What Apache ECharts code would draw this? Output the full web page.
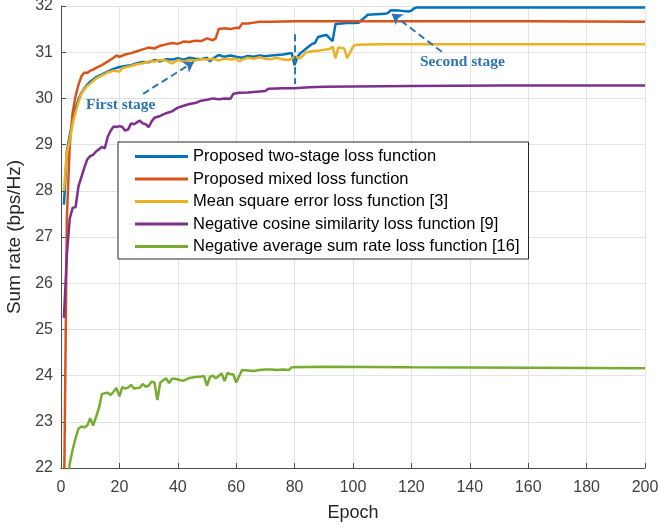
<!DOCTYPE html>
<html>
<head>
<meta charset="utf-8">
<script src="https://cdn.jsdelivr.net/npm/echarts@6/dist/echarts.min.js"></script>
<style>
html, body { margin: 0; padding: 0; background: #fff; }
#chart { width: 658px; height: 529px; }
</style>
</head>
<body>
<div id="chart"></div>
<script>
// legend names
var seriesNames = [
    'Proposed two-stage loss function',
    'Proposed mixed loss function',
    'Mean square error loss function [3]',
    'Negative cosine similarity loss function [9]',
    'Negative average sum rate loss function [16]'
];
var seriesColors = ['#0072BD', '#D95319', '#EDB120', '#7E2F8E', '#77AC30'];

// two-stage
var twoStageEpoch = [1, 2, 3, 4, 5, 6, 7, 8, 9, 10, 12, 14, 16, 18, 20, 22, 24, 26, 28, 30, 32, 34, 36, 38, 40, 42, 44, 46, 48, 50, 51, 52, 54, 56, 58, 60, 62, 64, 66, 68, 70, 72, 74, 76, 78, 79, 80, 81, 82, 84, 86, 87, 88, 90, 91, 92, 93, 94, 96, 98, 100, 102, 103, 104, 105, 108, 111, 112, 113, 116, 119, 120, 121, 122, 130, 150, 170, 200];
var twoStageRate = [27.7, 28.85, 29.2, 29.5, 29.78, 29.98, 30.12, 30.22, 30.3, 30.36, 30.46, 30.52, 30.58, 30.64, 30.68, 30.7, 30.72, 30.76, 30.79, 30.78, 30.83, 30.8, 30.85, 30.84, 30.87, 30.84, 30.88, 30.86, 30.85, 30.88, 30.8, 30.86, 30.94, 30.9, 30.93, 30.9, 30.88, 30.92, 30.9, 30.93, 30.91, 30.93, 30.94, 30.95, 30.97, 30.98, 30.72, 30.9, 30.98, 31.08, 31.18, 31.2, 31.33, 31.36, 31.37, 31.3, 31.24, 31.61, 31.62, 31.63, 31.63, 31.64, 31.7, 31.75, 31.81, 31.82, 31.83, 31.85, 31.91, 31.9, 31.88, 31.9, 31.95, 31.97, 31.97, 31.97, 31.97, 31.97];

// mixed
var mixedEpoch = [1, 2, 3, 4, 5, 6, 7, 8, 9, 10, 11, 12, 14, 16, 18, 19, 20, 22, 24, 26, 28, 30, 32, 34, 36, 38, 40, 42, 44, 46, 48, 50, 52, 53, 54, 56, 58, 60, 61, 62, 64, 66, 68, 72, 80, 100, 130, 160, 200];
var mixedRate = [21.0, 27.4, 29.0, 29.7, 30.05, 30.3, 30.48, 30.56, 30.55, 30.6, 30.62, 30.66, 30.72, 30.8, 30.88, 30.93, 30.9, 30.95, 30.98, 31.02, 31.06, 31.1, 31.08, 31.14, 31.17, 31.2, 31.18, 31.23, 31.22, 31.25, 31.24, 31.3, 31.26, 31.3, 31.5, 31.52, 31.5, 31.53, 31.52, 31.62, 31.62, 31.64, 31.66, 31.66, 31.67, 31.67, 31.67, 31.67, 31.66];

// mse
var mseEpoch = [1, 2, 3, 4, 5, 6, 7, 8, 9, 10, 12, 14, 16, 18, 20, 21, 24, 26, 28, 30, 32, 34, 36, 38, 40, 42, 44, 46, 48, 50, 52, 54, 56, 58, 60, 61, 62, 64, 66, 68, 70, 72, 74, 76, 78, 80, 82, 84, 86, 88, 90, 92, 93, 94, 95, 97, 98, 100, 101, 110, 130, 160, 200];
var mseRate = [28.0, 28.82, 29.1, 29.46, 29.7, 29.92, 30.1, 30.2, 30.27, 30.32, 30.43, 30.5, 30.56, 30.6, 30.58, 30.66, 30.7, 30.74, 30.76, 30.8, 30.8, 30.83, 30.82, 30.76, 30.83, 30.8, 30.83, 30.82, 30.85, 30.84, 30.86, 30.82, 30.86, 30.84, 30.86, 30.8, 30.84, 30.88, 30.86, 30.89, 30.86, 30.85, 30.88, 30.84, 30.83, 30.9, 30.87, 31.0, 31.02, 31.03, 31.05, 31.07, 31.12, 30.87, 31.1, 31.08, 30.87, 31.12, 31.16, 31.17, 31.17, 31.17, 31.17];

// cosine
var cosEpoch = [1, 2, 3, 4, 5, 6, 7, 8, 9, 10, 11, 12, 13, 14, 15, 16, 17, 18, 19, 20, 21, 22, 23, 24, 25, 26, 27, 28, 29, 30, 31, 32, 34, 36, 38, 40, 42, 44, 46, 48, 50, 52, 54, 56, 58, 59, 61, 64, 68, 70, 71, 76, 80, 85, 90, 100, 120, 150, 200];
var cosRate = [25.25, 26.6, 27.4, 27.63, 27.65, 28.1, 28.3, 28.5, 28.68, 28.75, 28.78, 28.85, 28.9, 28.95, 28.92, 29.17, 29.3, 29.39, 29.38, 29.4, 29.38, 29.3, 29.33, 29.46, 29.44, 29.48, 29.52, 29.46, 29.44, 29.38, 29.5, 29.58, 29.62, 29.68, 29.72, 29.8, 29.84, 29.88, 29.9, 29.95, 29.97, 30.0, 29.98, 30.0, 29.99, 30.1, 30.12, 30.13, 30.15, 30.16, 30.21, 30.22, 30.22, 30.24, 30.25, 30.26, 30.27, 30.28, 30.28];

// sum rate
var sumEpoch = [1, 2, 3, 4, 5, 6, 7, 8, 9, 10, 11, 12, 13, 14, 15, 16, 17, 18, 19, 20, 21, 22, 23, 24, 25, 26, 27, 28, 29, 30, 31, 32, 33, 34, 35, 36, 37, 38, 39, 41, 42, 44, 46, 48, 49, 50, 51, 52, 53, 54, 55, 56, 57, 58, 59, 60, 62, 64, 66, 68, 70, 72, 74, 76, 78, 79, 90, 120, 160, 200];
var sumRate = [20.5, 21.6, 22.1, 22.4, 22.65, 22.85, 22.9, 22.88, 22.92, 23.08, 22.92, 23.1, 23.3, 23.6, 23.62, 23.63, 23.58, 23.65, 23.73, 23.55, 23.75, 23.72, 23.74, 23.8, 23.72, 23.73, 23.74, 23.82, 23.76, 23.78, 23.87, 23.85, 23.47, 23.85, 23.9, 23.94, 23.84, 23.93, 23.93, 23.9, 23.89, 23.95, 23.97, 23.98, 23.99, 23.78, 23.97, 24.0, 23.94, 23.99, 24.05, 23.88, 24.06, 24.03, 24.03, 23.85, 24.12, 24.11, 24.1, 24.12, 24.13, 24.13, 24.12, 24.13, 24.12, 24.18, 24.19, 24.18, 24.17, 24.16];

var allEpoch = [twoStageEpoch, mixedEpoch, mseEpoch, cosEpoch, sumEpoch];
var allRate = [twoStageRate, mixedRate, mseRate, cosRate, sumRate];

var annoColor = '#2E75B6';
var fontSans = 'Arial, Liberation Sans';

var myChart = echarts.init(document.getElementById('chart'));

var series = [];
for (var s = 0; s < seriesNames.length; s++) {
    var pts = [];
    for (var i = 0; i < allEpoch[s].length; i++) {
        pts.push([allEpoch[s][i], allRate[s][i]]);
    }
    series.push({
        name: seriesNames[s],
        type: 'line',
        data: pts,
        symbol: 'none',
        showSymbol: false,
        clip: true,
        color: seriesColors[s],
        lineStyle: {width: 2.5, color: seriesColors[s]}
    });
}

// dashed arrows + stage divider at epoch 80
series[0].markLine = {
    silent: true,
    symbol: ['none', 'arrow'],
    symbolSize: 10,
    label: {show: false},
    lineStyle: {color: annoColor, width: 2, type: [7, 4]},
    data: [
        [{coord: [28.1, 30.1]}, {coord: [45.5, 30.79]}],
        [{coord: [130.4, 31.01]}, {coord: [113.3, 31.83]}],
        [{coord: [80, 31.39], symbol: 'none'}, {coord: [80, 30.31], symbol: 'none'}]
    ]
};

var option = {
    animation: false,
    backgroundColor: '#fff',
    grid: {left: 61, right: 13, top: 6, bottom: 61, containLabel: false, outerBoundsMode: 'none'},
    legend: {
        orient: 'vertical',
        left: 118,
        top: 142,
        padding: [6, 9, 4, 17],
        backgroundColor: '#fff',
        borderColor: '#262626',
        borderWidth: 1,
        icon: 'rect',
        itemWidth: 53,
        itemHeight: 3,
        itemGap: 5.5,
        textStyle: {fontFamily: fontSans, fontSize: 16.5, color: '#000'},
        data: seriesNames
    },
    xAxis: {
        type: 'value',
        min: 0,
        max: 200,
        interval: 20,
        name: 'Epoch',
        nameLocation: 'middle',
        nameGap: 36,
        nameTextStyle: {fontFamily: fontSans, fontSize: 18, color: '#262626'},
        axisLine: {onZero: false, lineStyle: {color: '#4d4d4d', width: 1}},
        axisTick: {inside: true, length: 5, lineStyle: {color: '#4d4d4d'}},
        axisLabel: {margin: 12, fontFamily: fontSans, fontSize: 16, color: '#404040'},
        splitLine: {show: true, lineStyle: {color: '#e3e3e3', width: 1}}
    },
    yAxis: {
        type: 'value',
        min: 22,
        max: 32,
        interval: 1,
        name: 'Sum rate (bps/Hz)',
        nameLocation: 'middle',
        nameGap: 30,
        nameTextStyle: {fontFamily: fontSans, fontSize: 19, color: '#262626'},
        axisLine: {show: true, lineStyle: {color: '#4d4d4d', width: 1}},
        axisTick: {show: true, inside: true, length: 5, lineStyle: {color: '#4d4d4d'}},
        axisLabel: {margin: 8, fontFamily: fontSans, fontSize: 16, color: '#404040'},
        splitLine: {show: true, lineStyle: {color: '#e3e3e3', width: 1}}
    },
    graphic: [
        {
            type: 'text', left: 86, top: 97, z: 100,
            style: {text: 'First stage', fill: annoColor, font: 'bold 15.5px "Times New Roman", "Liberation Serif", serif'}
        },
        {
            type: 'text', left: 420, top: 54, z: 100,
            style: {text: 'Second stage', fill: annoColor, font: 'bold 15.5px "Times New Roman", "Liberation Serif", serif'}
        }
    ],
    series: series
};

myChart.setOption(option);
</script>
</body>
</html>
